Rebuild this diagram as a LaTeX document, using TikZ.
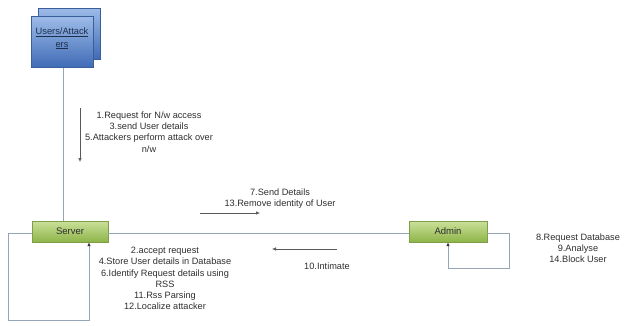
\documentclass[tikz,border=0pt]{standalone}
\usepackage{fontspec}
\setmainfont{Liberation Sans}
\usetikzlibrary{arrows.meta}
\definecolor{linec}{HTML}{95A5B8}
\definecolor{bluetop}{HTML}{9DBBE8}
\definecolor{bluebot}{HTML}{3F6BB5}
\definecolor{blueedge}{HTML}{3A5E9C}
\definecolor{greentop}{HTML}{CBE09A}
\definecolor{greenbot}{HTML}{8DB548}
\definecolor{greenedge}{HTML}{7F9E48}
\definecolor{txt}{HTML}{2E2E2E}
\tikzset{
  userbox/.style={draw=blueedge, top color=bluetop, bottom color=bluebot, minimum width=62pt, minimum height=51pt, inner sep=0pt},
  actbox/.style={draw=greenedge, top color=greentop, bottom color=greenbot, minimum height=21pt, inner sep=0pt, font=\fontsize{9.5}{11}\selectfont, text=txt},
  conn/.style={draw=linec, line width=0.9pt},
  loopar/.style={draw=linec, line width=0.9pt, -{Latex[length=4pt,width=3.5pt,color=black!80]}},
  msgar/.style={draw=black!65, line width=0.6pt, -{Latex[length=4pt,width=3.5pt]}},
  lbl/.style={align=center, text=txt, font=\fontsize{9.2}{11.2}\selectfont, inner sep=0pt}
}
\begin{document}
\begin{tikzpicture}[x=1pt,y=-1pt]
\useasboundingbox (0,0) rectangle (624,325);
% users
\node[userbox] (usersback) at (69,33.5) {};
\node[userbox, align=center, text=blueedge!50!black, font=\fontsize{9.3}{12.5}\selectfont, text depth=9pt] (users) at (62,42) {\underline{Users/Attack}\\\underline{ers}};
% server and admin
\node[actbox, minimum width=76pt] (server) at (70,231.5) {Server};
\node[actbox, minimum width=78pt] (admin) at (448,231.5) {Admin};
% connectors
\draw[conn] (users.south -| 63,0) -- (server.north -| 63,0);
\draw[conn] (server.east |- 0,233) -- (admin.west |- 0,233);
% server loop
\coordinate (s1) at (8,233);
\coordinate (s2) at (8,320);
\coordinate (s3) at (89,320);
\draw[loopar] (server.west |- s1) -- (s1) -- (s2) -- (s3) -- (s3 |- server.south);
% admin loop
\coordinate (a1) at (509,233);
\coordinate (a2) at (509,268);
\coordinate (a3) at (448,268);
\draw[loopar] (admin.east |- a1) -- (a1) -- (a2) -- (a3) -- (admin.south);
% message arrows
\coordinate (d1) at (80,108);
\coordinate (d2) at (80,162);
\draw[msgar] (d1) -- (d2);
\coordinate (r1) at (200,213);
\coordinate (r2) at (260,213);
\draw[msgar] (r1) -- (r2);
\coordinate (l1) at (337,249);
\coordinate (l2) at (272,249);
\draw[msgar] (l1) -- (l2);
% labels
\node[lbl] (t1) at (149,132) {1.Request for N/w access\\3.send User details\\5.Attackers perform attack over\\n/w};
\node[lbl] (t2) at (280,198.5) {7.Send Details\\13.Remove identity of User};
\node[lbl] (t3) at (327,266) {10.Intimate};
\node[lbl] (t4) at (165,278.5) {2.accept request\\4.Store User details in Database\\6.Identify Request details using\\RSS\\11.Rss Parsing\\12.Localize attacker};
\node[lbl] (t5) at (578,248) {8.Request Database\\9.Analyse\\14.Block User};
\end{tikzpicture}
\end{document}
